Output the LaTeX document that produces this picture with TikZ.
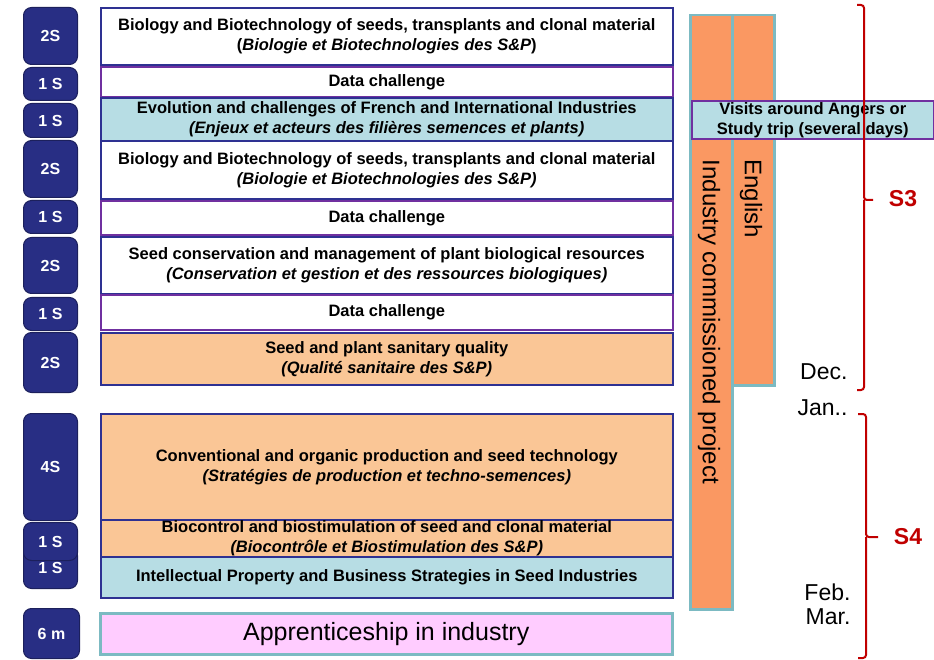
\documentclass[tikz,border=0pt]{standalone}
\usepackage{fontspec}
\setmainfont{Liberation Sans}
\usetikzlibrary{positioning}
\definecolor{navy}{RGB}{40,46,132}
\definecolor{edgeblue}{RGB}{46,49,146}
\definecolor{purp}{RGB}{112,48,160}
\definecolor{lblue}{RGB}{183,221,228}
\definecolor{lorange}{RGB}{250,198,150}
\definecolor{barfill}{RGB}{250,152,98}
\definecolor{tealedge}{RGB}{124,186,194}
\definecolor{pinkfill}{RGB}{255,204,255}
\definecolor{dred}{RGB}{192,0,0}
\begin{document}
\begin{tikzpicture}[x=1pt, y=-1pt,
  pill/.style = {draw=navy!70!black, fill=navy, rounded corners=8pt, line width=1pt, anchor=north west, inner sep=0pt, minimum width=54pt, text=white, font=\fontsize{16}{18}\selectfont\bfseries},
  box/.style = {draw=edgeblue, fill=white, line width=1.6pt, anchor=north west, inner sep=0pt, minimum width=572pt, align=center, font=\fontsize{16.5}{20}\selectfont\bfseries},
  dc/.style = {box, draw=purp},
  bar/.style = {draw=tealedge, fill=barfill, line width=2.5pt, anchor=north west, inner sep=0pt, minimum width=42pt},
  vert/.style = {rotate=-90, font=\fontsize{24}{26}\selectfont},
  brace/.style = {draw=dred, line width=2pt, rounded corners=3pt},
  month/.style = {anchor=east, align=right, font=\fontsize{23}{24}\selectfont},
  sem/.style = {text=dred, font=\fontsize{23}{24}\selectfont\bfseries}]
\useasboundingbox (0,0) rectangle (934,660);

\node[pill, minimum height=57pt] (p1) at (23,7) {2S};
\node[pill, minimum height=33pt] (p2) at (23,67) {1 S};
\node[pill, minimum height=34pt] (p3) at (23,103) {1 S};
\node[pill, minimum height=57pt] (p4) at (23,140) {2S};
\node[pill, minimum height=33pt] (p5) at (23,200) {1 S};
\node[pill, minimum height=56pt] (p6) at (23,237) {2S};
\node[pill, minimum height=33pt] (p7) at (23,297) {1 S};
\node[pill, minimum height=60pt] (p8) at (23,332) {2S};
\node[pill, minimum height=107pt] (p9) at (23,413) {4S};
\node[pill, minimum height=41pt] (p11) at (23,547) {1 S};
\node[pill, minimum height=38pt] (p10) at (23,522) {1 S};
\node[pill, minimum height=50pt, minimum width=56pt] (p12) at (23,608) {6 m};

\node[box, minimum height=57pt] (b1) at (100,7) {Biology and Biotechnology of seeds, transplants and clonal material\\(\textit{Biologie et Biotechnologies des S\&P})};
\node[dc, minimum height=30pt] (b2) at (100,66) {Data challenge};
\node[box, fill=lblue, minimum height=43pt] (b3) at (100,97) {Evolution and challenges of French and International Industries\\\textit{(Enjeux et acteurs des filières semences et plants)}};
\node[box, minimum height=58pt] (b4) at (100,140) {Biology and Biotechnology of seeds, transplants and clonal material\\\textit{(Biologie et Biotechnologies des S\&P)}};
\node[dc, minimum height=34pt] (b5) at (100,200) {Data challenge};
\node[box, minimum height=57pt] (b6) at (100,236) {Seed conservation and management of plant biological resources\\\textit{(Conservation et gestion et des ressources biologiques)}};
\node[dc, minimum height=35pt] (b7) at (100,294) {Data challenge};
\node[box, fill=lorange, minimum height=52pt] (b8) at (100,332) {Seed and plant sanitary quality\\\textit{(Qualité sanitaire des S\&P)}};
\node[box, fill=lorange, minimum height=106pt] (b9) at (100,413) {Conventional and organic production and seed technology\\\textit{(Stratégies de production et techno-semences)}};
\node[box, fill=lorange, minimum height=37pt] (b10) at (100,519) {Biocontrol and biostimulation of seed and clonal material\\\textit{(Biocontrôle et Biostimulation des S\&P)}};
\node[box, fill=lblue, minimum height=41pt] (b11) at (100,556) {Intellectual Property and Business Strategies in Seed Industries};
\node[box, draw=tealedge, fill=pinkfill, line width=2.5pt, minimum height=41pt, font=\fontsize{25}{26}\selectfont] (b12) at (99,612) {Apprenticeship in industry};

\node[bar, minimum height=594pt] (ind) at (689,14) {};
\node[bar, minimum height=370pt] (eng) at (731,14) {};
\node[vert] (indt) at (709,322) {Industry commissioned project};
\node[vert] (engt) at (751,199) {English};
\node[dc, fill=lblue, minimum width=242pt, minimum height=38pt] (visit) at (691,100) {Visits around Angers or\\Study trip (several days)};

\draw[brace] (857,5) -- (864,5) -- (864,200) -- (873,200) (864,200) -- (864,390) -- (857,390);
\draw[brace] (858,414) -- (866,414) -- (866,537) -- (878,537) (866,537) -- (866,658) -- (858,658);
\node[sem] (s3) at (903,199) {S3};
\node[sem] (s4) at (908,537) {S4};

\node[month] (dec) at (851,372) {Dec.};
\node[month] (jan) at (851,408) {Jan..};
\node[month] (feb) at (854,604) {Feb.\\Mar.};
\end{tikzpicture}
\end{document}
